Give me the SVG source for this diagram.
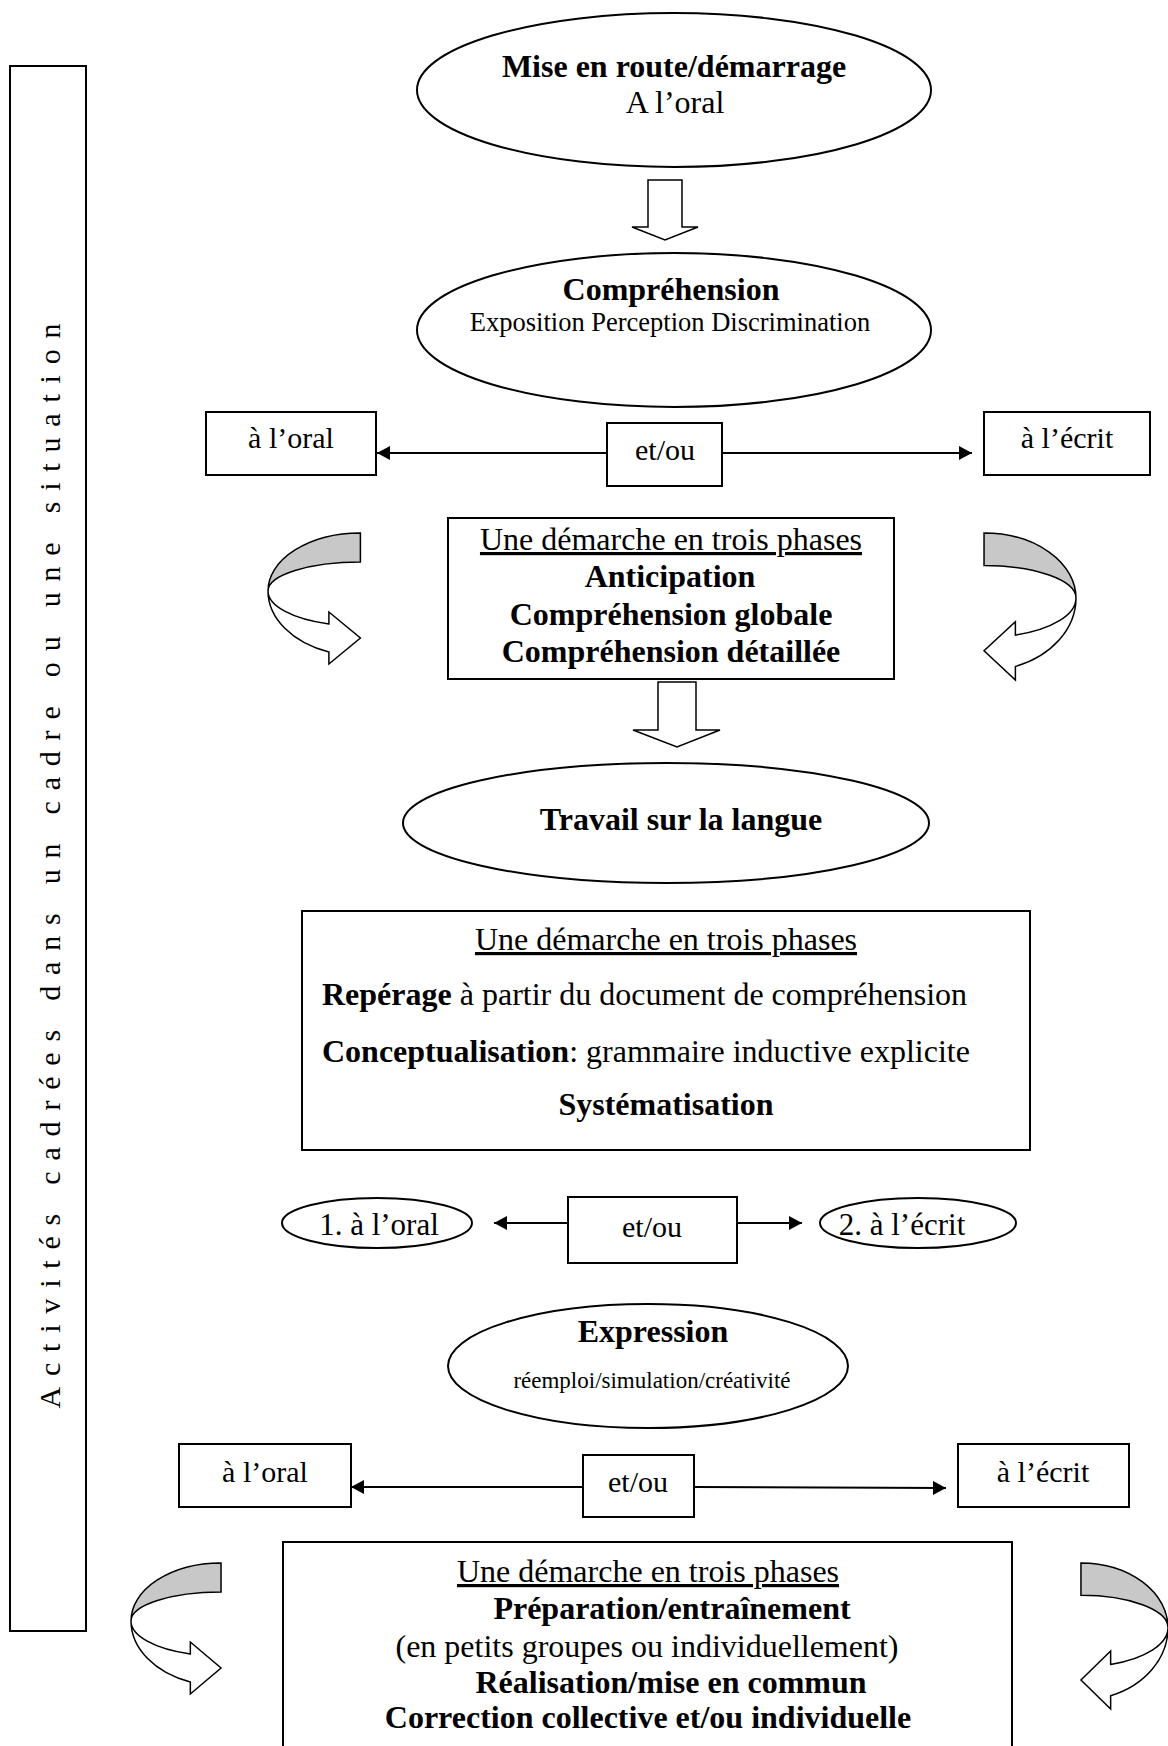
<svg xmlns="http://www.w3.org/2000/svg" width="1168" height="1746" viewBox="0 0 1168 1746">
<style>
.shape{fill:#fff;stroke:#000;stroke-width:2}
.ln{fill:none;stroke:#000;stroke-width:2}
.blk{fill:#fff;stroke:#000;stroke-width:1.5}
.t{font-family:"Liberation Serif","Times New Roman",serif;font-size:32px;fill:#000}
.s30{font-size:30px}
.s31{font-size:31px}
.b{font-weight:bold}
.m{text-anchor:middle}
.u{text-decoration:underline}
.gray{fill:#c8c8c8;stroke:#000;stroke-width:1.5}
.wh{fill:#fff;stroke:#000;stroke-width:1.5}
</style>
<defs>
<marker id="ah" viewBox="0 0 13 14" refX="13" refY="7" markerWidth="13" markerHeight="14" markerUnits="userSpaceOnUse" orient="auto">
<path d="M0,0 L13,7 L0,14 Z" fill="#000"/>
</marker>
<g id="curl">
<path class="gray" vector-effect="non-scaling-stroke" d="M88,0 A88,58 0 0 0 0,58 A88,29 0 0 1 88,29 Z"/>
<path class="wh" vector-effect="non-scaling-stroke" d="M0,58 A88,65 0 0 0 58,119 L58,131 L88,105 L58,79 L58,91 A88,35 0 0 1 0,58 Z"/>
</g>
</defs>
<rect width="1168" height="1746" fill="#fff"/>

<g id="frame">
<rect class="shape" x="10" y="66" width="76" height="1565"/>
<text class="t m s30" transform="translate(60,866) rotate(-90)" textLength="1085" lengthAdjust="spacing">Activités cadrées dans un cadre ou une situation</text>
</g>

<g id="connectors">
<polygon class="blk" points="648,180 682,180 682,227 698,227 665,240 632,227 648,227"/>
<polygon class="blk" points="658,682 696,682 696,730 720,730 677,747 633,730 658,730"/>
<line class="ln" x1="607" y1="453" x2="377" y2="453" marker-end="url(#ah)"/>
<line class="ln" x1="722" y1="453" x2="972" y2="453" marker-end="url(#ah)"/>
<line class="ln" x1="568" y1="1223" x2="494" y2="1223" marker-end="url(#ah)"/>
<line class="ln" x1="737" y1="1223" x2="802" y2="1223" marker-end="url(#ah)"/>
<line class="ln" x1="583" y1="1487" x2="351" y2="1487" marker-end="url(#ah)"/>
<line class="ln" x1="694" y1="1487" x2="946" y2="1488" marker-end="url(#ah)"/>
<use href="#curl" transform="translate(268,533) scale(1.05,1)"/>
<use href="#curl" transform="translate(1076,533) scale(-1.045,1.122)"/>
<use href="#curl" transform="translate(131,1563) scale(1.023,1)"/>
<use href="#curl" transform="translate(1168,1563) scale(-0.989,1.115)"/>
</g>

<g id="n-mise">
<ellipse class="shape" cx="674" cy="90" rx="257" ry="77"/>
<text class="t b m" x="674" y="77">Mise en route/démarrage</text>
<text class="t m" x="675" y="113">A l’oral</text>
</g>

<g id="n-comprehension">
<ellipse class="shape" cx="674" cy="330" rx="257" ry="77"/>
<text class="t b m" x="671" y="300">Compréhension</text>
<text class="t m" x="670" y="331" style="font-size:26.5px">Exposition Perception Discrimination</text>
</g>

<g id="n-oral1">
<rect class="shape" x="206" y="412" width="170" height="63"/>
<text class="t m s30" x="291" y="448">à l’oral</text>
</g>
<g id="n-etou1">
<rect class="shape" x="607" y="423" width="115" height="63"/>
<text class="t m s30" x="665" y="460">et/ou</text>
</g>
<g id="n-ecrit1">
<rect class="shape" x="984" y="412" width="166" height="63"/>
<text class="t m s30" x="1067" y="448">à l’écrit</text>
</g>

<g id="n-demarche1">
<rect class="shape" x="448" y="518" width="446" height="161"/>
<text class="t m u" x="671" y="550">Une démarche en trois phases</text>
<text class="t b m" x="670" y="587">Anticipation</text>
<text class="t b m" x="671" y="625">Compréhension globale</text>
<text class="t b m" x="671" y="662">Compréhension détaillée</text>
</g>

<g id="n-travail">
<ellipse class="shape" cx="666" cy="823" rx="263" ry="60"/>
<text class="t b m" x="681" y="830">Travail sur la langue</text>
</g>

<g id="n-demarche2">
<rect class="shape" x="302" y="911" width="728" height="239"/>
<text class="t m u" x="666" y="950">Une démarche en trois phases</text>
<text class="t" x="322" y="1005"><tspan class="b">Repérage</tspan> à partir du document de compréhension</text>
<text class="t" x="322" y="1062"><tspan class="b">Conceptualisation</tspan>: grammaire inductive explicite</text>
<text class="t b m" x="666" y="1115">Systématisation</text>
</g>

<g id="n-oral2">
<ellipse class="shape" cx="377" cy="1223" rx="95" ry="25"/>
<text class="t m s31" x="379" y="1235">1. à l’oral</text>
</g>
<g id="n-etou2">
<rect class="shape" x="568" y="1197" width="169" height="66"/>
<text class="t m s30" x="652" y="1237">et/ou</text>
</g>
<g id="n-ecrit2">
<ellipse class="shape" cx="918" cy="1223" rx="98" ry="25"/>
<text class="t m s31" x="902" y="1235">2. à l’écrit</text>
</g>

<g id="n-expression">
<ellipse class="shape" cx="648" cy="1366" rx="200" ry="62"/>
<text class="t b m" x="653" y="1342">Expression</text>
<text class="t m" x="652" y="1388" style="font-size:23px">réemploi/simulation/créativité</text>
</g>

<g id="n-oral3">
<rect class="shape" x="179" y="1444" width="172" height="63"/>
<text class="t m s30" x="265" y="1482">à l’oral</text>
</g>
<g id="n-etou3">
<rect class="shape" x="583" y="1455" width="111" height="62"/>
<text class="t m s30" x="638" y="1492">et/ou</text>
</g>
<g id="n-ecrit3">
<rect class="shape" x="958" y="1444" width="171" height="63"/>
<text class="t m s30" x="1043" y="1482">à l’écrit</text>
</g>

<g id="n-demarche3">
<rect class="shape" x="283" y="1542" width="729" height="220"/>
<text class="t m u" x="648" y="1582">Une démarche en trois phases</text>
<text class="t b m" x="672" y="1619">Préparation/entraînement</text>
<text class="t m" x="647" y="1657">(en petits groupes ou individuellement)</text>
<text class="t b m" x="671" y="1693">Réalisation/mise en commun</text>
<text class="t b m" x="648" y="1728">Correction collective et/ou individuelle</text>
</g>
</svg>
